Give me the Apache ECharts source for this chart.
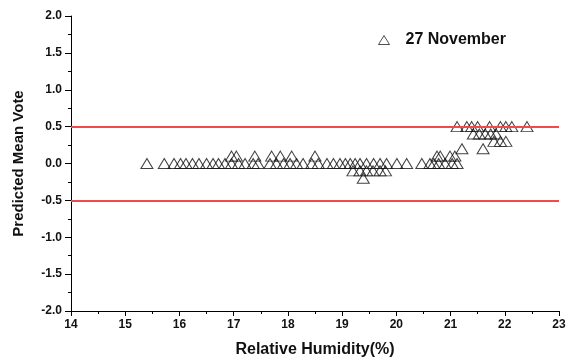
<!DOCTYPE html>
<html>
<head>
<meta charset="utf-8">
<script src="https://cdn.jsdelivr.net/npm/echarts@6/dist/echarts.min.js"></script>
<style>
html,body{margin:0;padding:0;background:#fff;}
#chart{width:572px;height:363px;}
</style>
</head>
<body>
<div id="chart"></div>
<script>
const seriesName = "27 November";
const humidity = [
  15.4, 15.72, 15.9, 16.02, 16.12, 16.24, 16.36, 16.5, 16.62, 16.72,
  16.84, 16.96, 17.09, 17.21, 17.36, 17.45, 17.67, 17.79, 17.92, 18.04,
  18.16, 18.28, 18.44, 18.56, 18.72, 18.84, 18.96, 19.06, 19.15, 19.24,
  19.33, 19.45, 19.58, 19.7, 19.82, 20.01, 20.19, 20.47, 20.62, 20.69,
  20.78, 20.9, 21.03, 21.12,
  16.96, 17.05, 17.39, 17.7, 17.86, 18.07, 18.5, 20.75, 20.81, 20.99, 21.08,
  19.2, 19.33, 19.45, 19.57, 19.7, 19.8,
  19.39,
  21.21, 21.6,
  21.8, 21.92, 22.02,
  21.42, 21.53, 21.64, 21.74, 21.84,
  21.12, 21.3, 21.39, 21.5, 21.72, 21.92, 22.02, 22.13, 22.41
];
const pmv = [
  0, 0, 0, 0, 0, 0, 0, 0, 0, 0,
  0, 0, 0, 0, 0, 0, 0, 0, 0, 0,
  0, 0, 0, 0, 0, 0, 0, 0, 0, 0,
  0, 0, 0, 0, 0, 0, 0, 0, 0, 0,
  0, 0, 0, 0,
  0.1, 0.1, 0.1, 0.1, 0.1, 0.1, 0.1, 0.1, 0.1, 0.1, 0.1,
  -0.1, -0.1, -0.1, -0.1, -0.1, -0.1,
  -0.2,
  0.2, 0.2,
  0.3, 0.3, 0.3,
  0.4, 0.4, 0.4, 0.4, 0.4,
  0.5, 0.5, 0.5, 0.5, 0.5, 0.5, 0.5, 0.5, 0.5
];
const comfortLimits = [0.5, -0.5];
const xRange = [14, 23];
const yRange = [-2, 2];

const points = humidity.map((h, i) => [h, pmv[i]]);
const font = "'Liberation Sans', Arial, sans-serif";
const chart = echarts.init(document.getElementById('chart'), null, {renderer: 'canvas'});
chart.setOption({
  animation: false,
  backgroundColor: '#fff',
  grid: {left: 71, right: 13, top: 16, bottom: 45},
  legend: {
    data: [{name: seriesName, icon: 'triangle'}],
    left: 373, top: 27,
    itemWidth: 11, itemHeight: 9,
    textStyle: {fontFamily: font, fontWeight: 'bold', fontSize: 16, color: '#111', padding: [0, 0, 0, 11]},
    itemStyle: {color: '#fff', borderColor: '#222', borderWidth: 1}
  },
  xAxis: {
    type: 'value', min: xRange[0], max: xRange[1], interval: 1,
    name: 'Relative Humidity(%)', nameLocation: 'middle', nameGap: 31,
    nameTextStyle: {fontFamily: font, fontWeight: 'bold', fontSize: 16, color: '#111'},
    axisLine: {show: true, onZero: false, lineStyle: {color: '#000', width: 1}},
    axisTick: {show: true, length: 5, inside: false, lineStyle: {color: '#000'}},
    minorTick: {show: true, splitNumber: 2, length: 3, lineStyle: {color: '#000'}},
    splitLine: {show: false},
    axisLabel: {fontFamily: font, fontWeight: 'bold', fontSize: 12, color: '#111', margin: 8}
  },
  yAxis: {
    type: 'value', min: yRange[0], max: yRange[1], interval: 0.5,
    name: 'Predicted Mean Vote', nameLocation: 'middle', nameGap: 45,
    nameTextStyle: {fontFamily: font, fontWeight: 'bold', fontSize: 15, color: '#111'},
    axisLine: {show: true, onZero: false, lineStyle: {color: '#000', width: 1}},
    axisTick: {show: true, length: 6, lineStyle: {color: '#000'}},
    minorTick: {show: true, splitNumber: 2, length: 3, lineStyle: {color: '#000'}},
    splitLine: {show: false},
    axisLabel: {fontFamily: font, fontWeight: 'bold', fontSize: 12, color: '#111', margin: 9,
      formatter: v => v.toFixed(1)}
  },
  series: [{
    name: seriesName,
    type: 'scatter',
    data: points,
    symbol: 'triangle',
    symbolSize: [12, 10],
    itemStyle: {color: 'rgba(255,255,255,0)', borderColor: '#111', borderWidth: 1},
    markLine: {
      silent: true, symbol: 'none',
      label: {show: false},
      lineStyle: {color: '#f04a4a', width: 2, type: 'solid'},
      data: comfortLimits.map(v => ({yAxis: v}))
    }
  }]
});
</script>
</body>
</html>
